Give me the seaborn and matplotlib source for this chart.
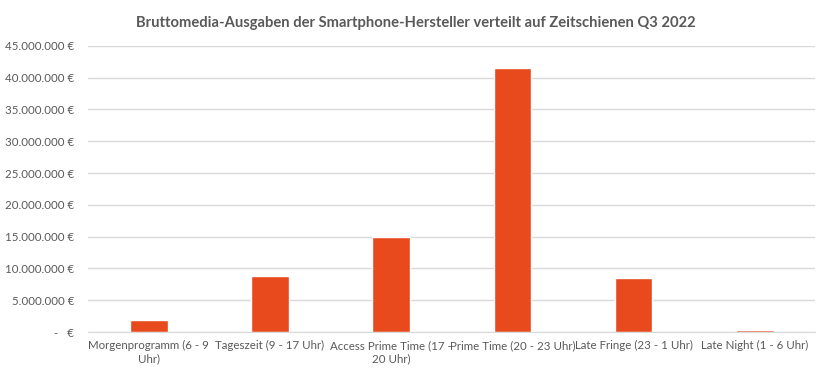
import matplotlib
matplotlib.use("Agg")
import matplotlib.pyplot as plt
import seaborn as sns
import pandas as pd

categories = ["Morgenprogramm (6 - 9\nUhr)", "Tageszeit (9 - 17 Uhr)", "Access Prime Time (17 -\n20 Uhr)",
              "Prime Time (20 - 23 Uhr)", "Late Fringe (23 - 1 Uhr)", "Late Night (1 - 6 Uhr)"]
values = [1.9e6, 8.85e6, 14.9e6, 41.5e6, 8.5e6, 0.3e6]
yticks = [0, 5e6, 10e6, 15e6, 20e6, 25e6, 30e6, 35e6, 40e6, 45e6]
ytick_labels = ["-   €", "5.000.000 €", "10.000.000 €", "15.000.000 €", "20.000.000 €",
                "25.000.000 €", "30.000.000 €", "35.000.000 €", "40.000.000 €", "45.000.000 €"]
title = "Bruttomedia-Ausgaben der Smartphone-Hersteller verteilt auf Zeitschienen Q3 2022"

sns.set_style("white")
plt.rcParams['font.family'] = ['Lato', 'DejaVu Sans']

df = pd.DataFrame({"cat": categories, "val": values})
fig = plt.figure(figsize=(8.32, 3.79), dpi=100)
ax = fig.add_axes([0.106, 0.124, 0.874, 0.755])
sns.barplot(data=df, x="cat", y="val", color="#E8491D", saturation=1, width=0.31, ax=ax)
ax.set_ylim(0, 45e6)
ax.set_xlim(-0.5, 5.5)
ax.set_yticks(yticks)
ax.set_yticklabels(ytick_labels)
ax.yaxis.grid(True, color="#D9D9D9", linewidth=1)
ax.set_axisbelow(True)
for s in ["top", "right", "left"]:
    ax.spines[s].set_visible(False)
ax.spines["bottom"].set_color("#D9D9D9")
ax.tick_params(axis="x", length=0, labelsize=8.3, colors="#595959", pad=6)
ax.tick_params(axis="y", length=0, labelsize=8.3, colors="#595959", pad=10)
ax.set_xlabel("")
ax.set_ylabel("")
fig.text(0.5, 0.94, title, ha="center", va="center", fontsize=10.6, fontweight="bold", color="#595959")
fig.savefig("out.png", dpi=100)
